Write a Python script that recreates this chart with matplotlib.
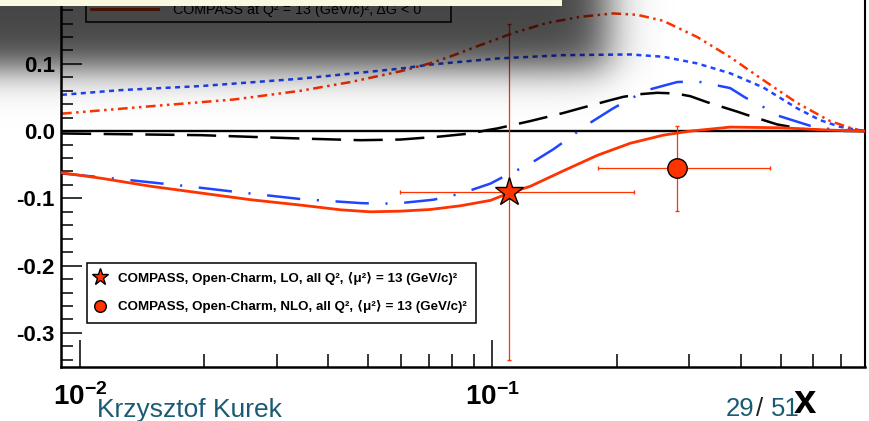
import numpy as np
import matplotlib
matplotlib.use("Agg")
import matplotlib.pyplot as plt
from matplotlib.ticker import FixedLocator, NullFormatter

plt.rcParams["font.family"] = ["Liberation Sans", "DejaVu Sans"]
plt.rcParams["mathtext.fontset"] = "custom"
plt.rcParams["mathtext.rm"] = "Liberation Sans"
plt.rcParams["mathtext.bf"] = "Liberation Sans:bold"
plt.rcParams["lines.scale_dashes"] = False

# ---- gluon polarisation curves, x*dG(x) ----
x_dgneg = [0.00905, 0.01124, 0.01485, 0.01963, 0.02594, 0.03428, 0.04285, 0.05064,
           0.05988, 0.07078, 0.08367, 0.0989, 0.1099, 0.1236, 0.1486, 0.1796,
           0.2159, 0.2594, 0.3016, 0.3770, 0.4982, 0.6582, 0.8]
y_dgneg = [-0.062, -0.070, -0.082, -0.092, -0.102, -0.110, -0.117, -0.120,
           -0.119, -0.1165, -0.111, -0.103, -0.092, -0.082, -0.059, -0.036,
           -0.018, -0.006, 0.000, 0.006, 0.005, 0.0015, 0.0]

x_dashdot = [0.00905, 0.01236, 0.01826, 0.02360, 0.03428, 0.04790, 0.05356, 0.05988,
             0.07196, 0.08367, 0.0989, 0.1093, 0.1215, 0.1405, 0.1545, 0.1661,
             0.1963, 0.2159, 0.2373, 0.2805, 0.3135, 0.3770, 0.4099, 0.4532,
             0.4982, 0.5888, 0.6582, 0.8]
y_dashdot = [-0.063, -0.071, -0.082, -0.090, -0.101, -0.107, -0.108, -0.107,
             -0.102, -0.093, -0.078, -0.064, -0.051, -0.027, -0.009, 0.006,
             0.034, 0.048, 0.061, 0.073, 0.074, 0.064, 0.050, 0.036,
             0.022, 0.008, 0.003, 0.0]

x_longdash = [0.00905, 0.01963, 0.03428, 0.0479, 0.05988, 0.0748, 0.0885, 0.0972,
              0.1028, 0.1236, 0.1486, 0.1634, 0.1931, 0.2076, 0.2283, 0.2509,
              0.2774, 0.3016, 0.3316, 0.3920, 0.4145, 0.4898, 0.5662, 0.6582, 0.8]
y_longdash = [-0.0035, -0.006, -0.011, -0.0135, -0.0125, -0.008, -0.0035, 0.0015,
              0.004, 0.015, 0.027, 0.034, 0.046, 0.051, 0.055, 0.057,
              0.056, 0.052, 0.043, 0.029, 0.024, 0.010, 0.003, 0.0005, 0.0]

x_dotted = [0.00905, 0.01257, 0.01963, 0.03428, 0.05988, 0.07078, 0.1028, 0.1486,
            0.2159, 0.2594, 0.3135, 0.3770, 0.4532, 0.5475, 0.6225, 0.6960, 0.8]
y_dotted = [0.054, 0.061, 0.067, 0.078, 0.093, 0.099, 0.108, 0.113,
            0.114, 0.1106, 0.1007, 0.086, 0.065, 0.034, 0.0164, 0.0064, 0.0]

x_dashdotdot = [0.00905, 0.01485, 0.0236, 0.03428, 0.04531, 0.05988, 0.07078, 0.07911,
                0.09353, 0.1124, 0.1359, 0.1634, 0.1963, 0.2244, 0.2594, 0.3135,
                0.3770, 0.4532, 0.5475, 0.6582, 0.7358, 0.8]
y_dashdotdot = [0.026, 0.037, 0.047, 0.060, 0.073, 0.089, 0.101, 0.111,
                0.128, 0.146, 0.161, 0.170, 0.175, 0.173, 0.164, 0.140,
                0.110, 0.076, 0.042, 0.015, 0.005, 0.0]

# ---- COMPASS open-charm measurements ----
lo_x, lo_y = [0.1098], [-0.090]
lo_xerr = [[0.050], [0.110]]
lo_yerr = [[0.250], [0.249]]
nlo_x, nlo_y = [0.2805], [-0.055]
nlo_xerr = [[0.100], [0.190]]
nlo_yerr = [[0.064], [0.063]]

label_dgneg = "COMPASS at Q² = 13 (GeV/c)², ΔG < 0"
label_lo = "COMPASS, Open-Charm, LO, all Q², ⟨μ²⟩ = 13 (GeV/c)²"
label_nlo = "COMPASS, Open-Charm, NLO, all Q², ⟨μ²⟩ = 13 (GeV/c)²"
xtick_vals = [0.01, 0.1]
xtick_labels = [r"$\mathbf{10^{-2}}$", r"$\mathbf{10^{-1}}$"]
ytick_vals = [-0.3, -0.2, -0.1, 0.0, 0.1, 0.2]
ytick_labels = ["-0.3", "-0.2", "-0.1", "0.0", "0.1", "0.2"]

W, H = 870, 421
fig = plt.figure(figsize=(W / 100, H / 100), dpi=100)
fig.patch.set_facecolor("white")

ax_left, ax_right = 61 / W, 865 / W
ax_bottom = (H - 366.5) / H
ax_top = (H + 37.0) / H
ax = fig.add_axes([ax_left, ax_bottom, ax_right - ax_left, ax_top - ax_bottom])
ax.set_xscale("log")
ax.set_xlim(0.009, 0.8)
ax.set_ylim(-0.35, 0.25)

RED = "#ff3300"
BLUE = "#1f45ff"

ax.axhline(0.0, color="black", lw=1.7, zorder=1)
ax.plot(x_longdash, y_longdash, color="black", lw=1.8, ls=(0, (21, 9)), zorder=2)
ax.plot(x_dotted, y_dotted, color=BLUE, lw=1.8, ls=(0, (3.6, 3.2)), zorder=2)
ax.plot(x_dashdotdot, y_dashdotdot, color=RED, lw=1.8,
        ls=(0, (7, 3.2, 1.8, 3.2, 1.8, 3.2)), zorder=2)
ax.plot(x_dashdot, y_dashdot, color=BLUE, lw=1.8, ls=(0, (24, 12, 1.5, 12)), zorder=2)
line_dgneg, = ax.plot(x_dgneg, y_dgneg, color=RED, lw=2.0, zorder=3, label=label_dgneg)

eb_lo = ax.errorbar(lo_x, lo_y, xerr=lo_xerr, yerr=lo_yerr, fmt="*", ms=21,
                    mfc=RED, mec="black", mew=1.0, ecolor=RED, elinewidth=0.9,
                    capsize=1.3, capthick=0.9, zorder=5)
eb_nlo = ax.errorbar(nlo_x, nlo_y, xerr=nlo_xerr, yerr=nlo_yerr, fmt="o", ms=14,
                     mfc=RED, mec="black", mew=1.0, ecolor=RED, elinewidth=0.9,
                     capsize=1.3, capthick=0.9, zorder=5)

# axes styling
for side in ("left", "bottom"):
    ax.spines[side].set_linewidth(1.8)
ax.spines["right"].set_linewidth(1.5)
ax.spines["top"].set_linewidth(1.5)

ax.set_xticks(xtick_vals, labels=xtick_labels)
ax.xaxis.set_minor_locator(FixedLocator([0.02, 0.03, 0.04, 0.05, 0.06, 0.07, 0.08, 0.09,
                                         0.2, 0.3, 0.4, 0.5, 0.6, 0.7]))
ax.xaxis.set_minor_formatter(NullFormatter())
ax.set_yticks(ytick_vals, labels=ytick_labels)
ax.yaxis.set_minor_locator(FixedLocator(np.round(np.arange(-0.34, 0.25, 0.02), 3)))
ax.tick_params(axis="x", which="major", direction="in", length=19.5, width=1.1,
               pad=12, labelsize=20)
ax.tick_params(axis="x", which="minor", direction="in", length=9.5, width=1.1)
ax.tick_params(axis="y", which="major", direction="in", length=15, width=1.1,
               pad=4.5, labelsize=16)
ax.tick_params(axis="y", which="minor", direction="in", length=8.6, width=1.1)
for lab in ax.get_yticklabels():
    lab.set_fontweight("bold")

# legends
leg_top = ax.legend(handles=[line_dgneg], labels=[label_dgneg], loc="lower left",
                    bbox_to_anchor=(86 / W, 1 - 21.7 / H, (451 - 86) / W, 0.0),
                    bbox_transform=fig.transFigure, mode="expand", fontsize=10.3,
                    fancybox=False, edgecolor="black", framealpha=1, borderpad=0.35,
                    handlelength=4.7, handletextpad=1.05, borderaxespad=0)
leg_top.get_frame().set_linewidth(1.1)
ax.add_artist(leg_top)

leg_pts = ax.legend(handles=[eb_lo[0], eb_nlo[0]], labels=[label_lo, label_nlo],
                    loc="upper left",
                    bbox_to_anchor=(87 / W, 1 - 262.7 / H, (476 - 87) / W, 0.0),
                    bbox_transform=fig.transFigure, mode="expand",
                    prop={"weight": "bold", "size": 9.6}, markerscale=0.6,
                    fancybox=False, edgecolor="black", framealpha=1, borderpad=0.7,
                    handlelength=0.5, handletextpad=1.1, labelspacing=1.15,
                    borderaxespad=0)
leg_pts.get_frame().set_linewidth(1.1)

# slide footer and axis title
TEAL = "#1a5b72"
fig.text(97 / W, (H - 416.5) / H, "Krzysztof Kurek", color=TEAL, fontsize=19,
         va="baseline", ha="left")
fig.text(726 / W, (H - 416.5) / H, "29", color=TEAL, fontsize=18.5, va="baseline")
fig.text(756 / W, (H - 416.5) / H, "/", color="#222222", fontsize=18.5, va="baseline")
fig.text(771 / W, (H - 416.5) / H, "51", color=TEAL, fontsize=18.5, va="baseline")
fig.text(805 / W, (H - 413) / H, "x", color="black", fontsize=29, fontweight="bold",
         va="baseline", ha="center", zorder=6)

# drop shadow of the note panel over the slide
px = np.arange(W) + 0.5
py = np.arange(H) + 0.5
fx = 1.0 / (1.0 + np.exp((px - 608) / 13.0))
fy = 1.0 / (1.0 + np.exp((py - 69) / 11.0))
rgba = np.zeros((H, W, 4))
rgba[..., 3] = 0.73 * np.outer(fy, fx)
panel = (py[:, None] < 5.6) & (px[None, :] < 562)
rgba[panel] = [0.988, 0.976, 0.875, 1.0]
fig.figimage(rgba, xo=0, yo=0, origin="upper", zorder=10)

fig.savefig("out.png", dpi=100)
